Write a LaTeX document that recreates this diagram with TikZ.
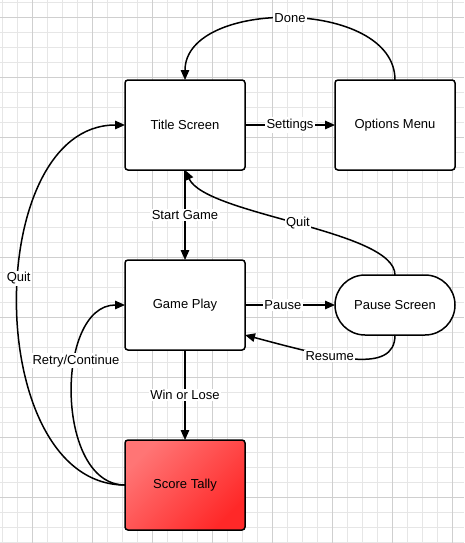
\documentclass[tikz,border=0pt]{standalone}
\usepackage{fontspec}
\setmainfont{Liberation Sans}
\usepackage{tikz}
\usetikzlibrary{positioning,arrows.meta}
\definecolor{gridminor}{HTML}{E6E6E6}
\definecolor{gridmajor}{HTML}{CFCFCF}
\definecolor{tallytop}{HTML}{FF7575}
\definecolor{tallybot}{HTML}{FF2828}

\begin{document}
\begin{tikzpicture}[x=1pt, y=1pt, node distance=90pt,
  every node/.style = {font=\fontsize{13}{15}\selectfont},
  state/.style = {shape=rectangle, rounded corners=3pt, draw, line width=1.5pt,
    outer sep=0pt, minimum width=120pt, minimum height=90pt, align=center, fill=white},
  pill/.style = {state, minimum height=60pt, rounded corners=30pt},
  tally/.style = {state, top color=tallytop, bottom color=tallybot, shading angle=45},
  lbl/.style = {fill=white, inner sep=1.5pt},
  arr/.style = {line width=1.5pt, -{Triangle[length=10pt,width=8.5pt]}}]
  \useasboundingbox (0,0) rectangle (464,-543);
  \foreach \k in {0,...,30}
    \draw[gridminor, line width=0.8pt] ({2.3+15*\k},0) -- ({2.3+15*\k},-543);
  \foreach \k in {0,...,36}
    \draw[gridminor, line width=0.8pt] (0,{-2.3-15*\k}) -- (464,{-2.3-15*\k});
  \foreach \x in {32.3,92.3,...,452.3}
    \draw[gridmajor, line width=0.8pt] (\x,0) -- (\x,-543);
  \foreach \y in {17.3,77.3,...,497.3}
    \draw[gridmajor, line width=0.8pt] (0,-\y) -- (464,-\y);

  \node[state] (title) at (185,-125) {Title Screen};
  \node[state, right=of title] (options) {Options Menu};
  \node[state, below=of title] (game) {Game Play};
  \node[pill, right=of game] (pause) {Pause Screen};
  \node[tally, below=of game] (score) {Score Tally};

  \draw[arr] (title) -- node[lbl]{Settings} (options);
  \draw[arr] (options.north) to[out=90, in=90] node[lbl]{Done} (title.north);
  \draw[arr] (title) -- node[lbl]{Start Game} (game);
  \draw[arr] (pause.north) to[out=90, in=-65, out distance=45pt, in distance=50pt]
    node[lbl]{Quit} (title.south);
  \draw[arr] (game) -- node[lbl, pos=0.42]{Pause} (pause);
  \draw[arr] (pause.south) to[out=-90, in=-15, out distance=40pt, in distance=90pt]
    node[lbl, pos=0.63]{Resume} ([yshift=15pt]game.south east);
  \draw[arr] (game) -- node[lbl]{Win or Lose} (score);
  \draw[arr] (score.west) to[out=180, in=180]
    node[lbl, pos=0.63]{Retry/Continue} (game.west);
  \draw[arr] (score.west) to[out=180, in=180, looseness=1.02]
    node[lbl, pos=0.55]{Quit} (title.west);
\end{tikzpicture}
\end{document}
